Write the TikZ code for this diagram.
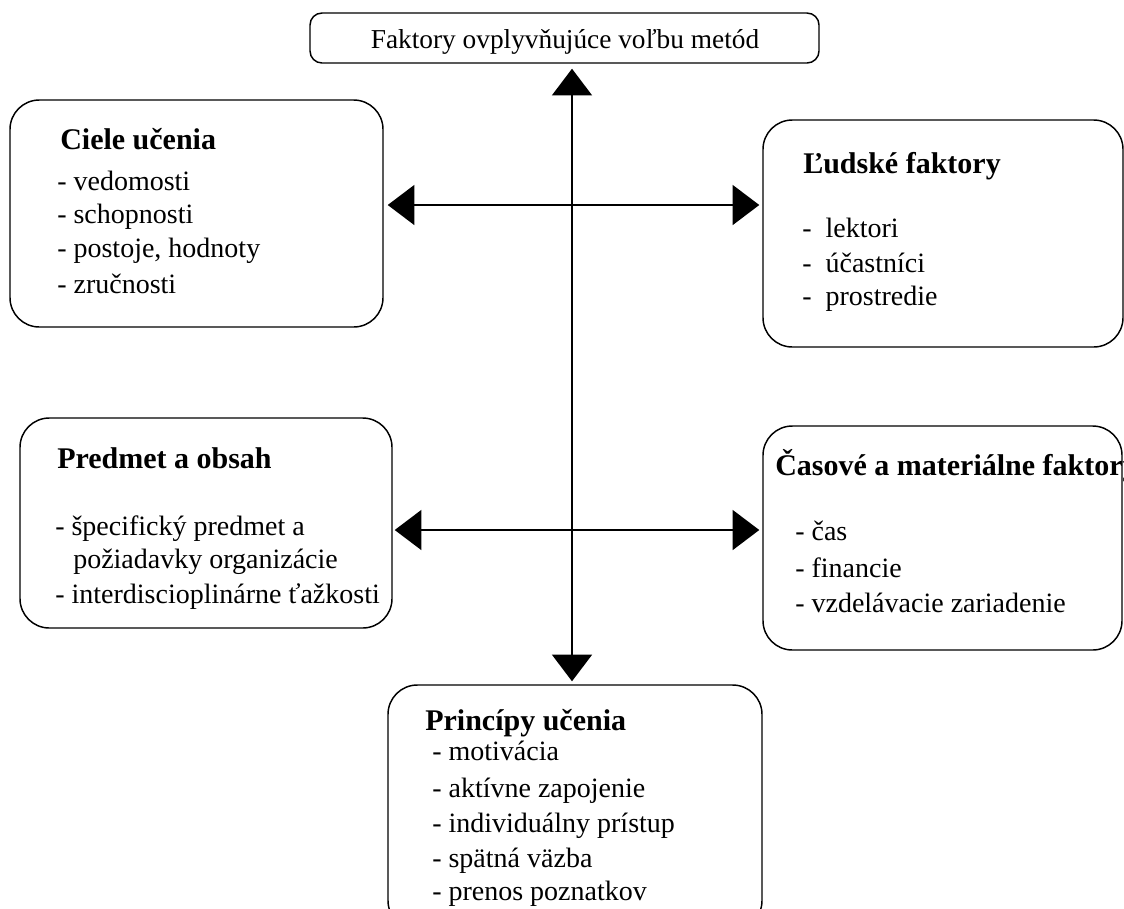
\documentclass[tikz,border=0pt]{standalone}
\usepackage{fontspec}
\setmainfont{Liberation Serif}
\usetikzlibrary{arrows.meta}
\begin{document}
\begin{tikzpicture}[x=0.75pt,y=-0.75pt,
  box/.style={draw, line width=1.1pt, inner sep=0pt, anchor=center},
  txt/.style={anchor=base west, inner sep=0pt, font=\fontsize{21}{24}\selectfont},
  ttl/.style={anchor=base west, inner sep=0pt, font=\fontsize{22.5}{26}\selectfont\bfseries},
  con/.style={line width=1.2pt, {Triangle[length=20pt,width=30pt]}-{Triangle[length=20pt,width=30pt]}}]
\useasboundingbox (0,0) rectangle (1124,908);
\clip (0,0) rectangle (1124,908);
% boxes
\node[box, rounded corners=9pt, minimum width=381.75pt, minimum height=37.5pt] (top) at (564.5,38) {};
\node[box, rounded corners=22pt, minimum width=279.75pt, minimum height=170.25pt] (ciele) at (196.5,213.5) {};
\node[box, rounded corners=22pt, minimum width=270pt, minimum height=170.25pt] (ludske) at (943,233.5) {};
\node[box, rounded corners=22pt, minimum width=279pt, minimum height=157.5pt] (predmet) at (206,523) {};
\node[box, rounded corners=22pt, minimum width=269.25pt, minimum height=168pt] (casove) at (942.5,538) {};
\node[box, rounded corners=22pt, minimum width=280.5pt, minimum height=183.75pt] (principy) at (575,807.5) {};
% texts
\node[anchor=base, inner sep=0pt, font=\fontsize{20.5}{24}\selectfont] (toptxt) at (565,48) {Faktory ovplyvňujúce voľbu metód};

\node[ttl] (c0) at (60,149) {Ciele učenia};
\node[txt] (c1) at (57,190) {- vedomosti};
\node[txt] (c2) at (57,223) {- schopnosti};
\node[txt] (c3) at (57,257) {- postoje, hodnoty};
\node[txt] (c4) at (57,293) {- zručnosti};

\node[ttl] (l0) at (803,173) {Ľudské faktory};
\node[txt] (l1) at (802,237) {-\ \ lektori};
\node[txt] (l2) at (802,272) {-\ \ účastníci};
\node[txt] (l3) at (802,305) {-\ \ prostredie};

\node[ttl] (p0) at (57,468) {Predmet a obsah};
\node[txt] (p1) at (55,535) {- špecifický predmet a};
\node[txt] (p2) at (73,568) {požiadavky organizácie};
\node[txt] (p3) at (55,603) {- interdiscioplinárne ťažkosti};

\node[ttl] (m0) at (775,475) {Časové a materiálne faktory};
\node[txt] (m1) at (795,540) {- čas};
\node[txt] (m2) at (795,577) {- financie};
\node[txt] (m3) at (795,612) {- vzdelávacie zariadenie};

\node[ttl] (u0) at (425,730) {Princípy učenia};
\node[txt] (u1) at (432,760) {- motivácia};
\node[txt] (u2) at (432,797) {- aktívne zapojenie};
\node[txt] (u3) at (432,832) {- individuálny prístup};
\node[txt] (u4) at (432,867) {- spätná väzba};
\node[txt] (u5) at (432,900) {- prenos poznatkov};

% connectors
\coordinate (vx) at (572,0);
\coordinate (h1) at (0,205);
\coordinate (h2) at (0,530);
\draw[con, shorten <=3.75pt, shorten >=2.25pt] (vx |- top.south) -- (vx |- principy.north);
\draw[con, shorten <=3pt, shorten >=2.25pt] (ciele.east |- h1) -- (ludske.west |- h1);
\draw[con, shorten <=1.5pt, shorten >=2.25pt] (predmet.east |- h2) -- (casove.west |- h2);
\end{tikzpicture}
\end{document}
